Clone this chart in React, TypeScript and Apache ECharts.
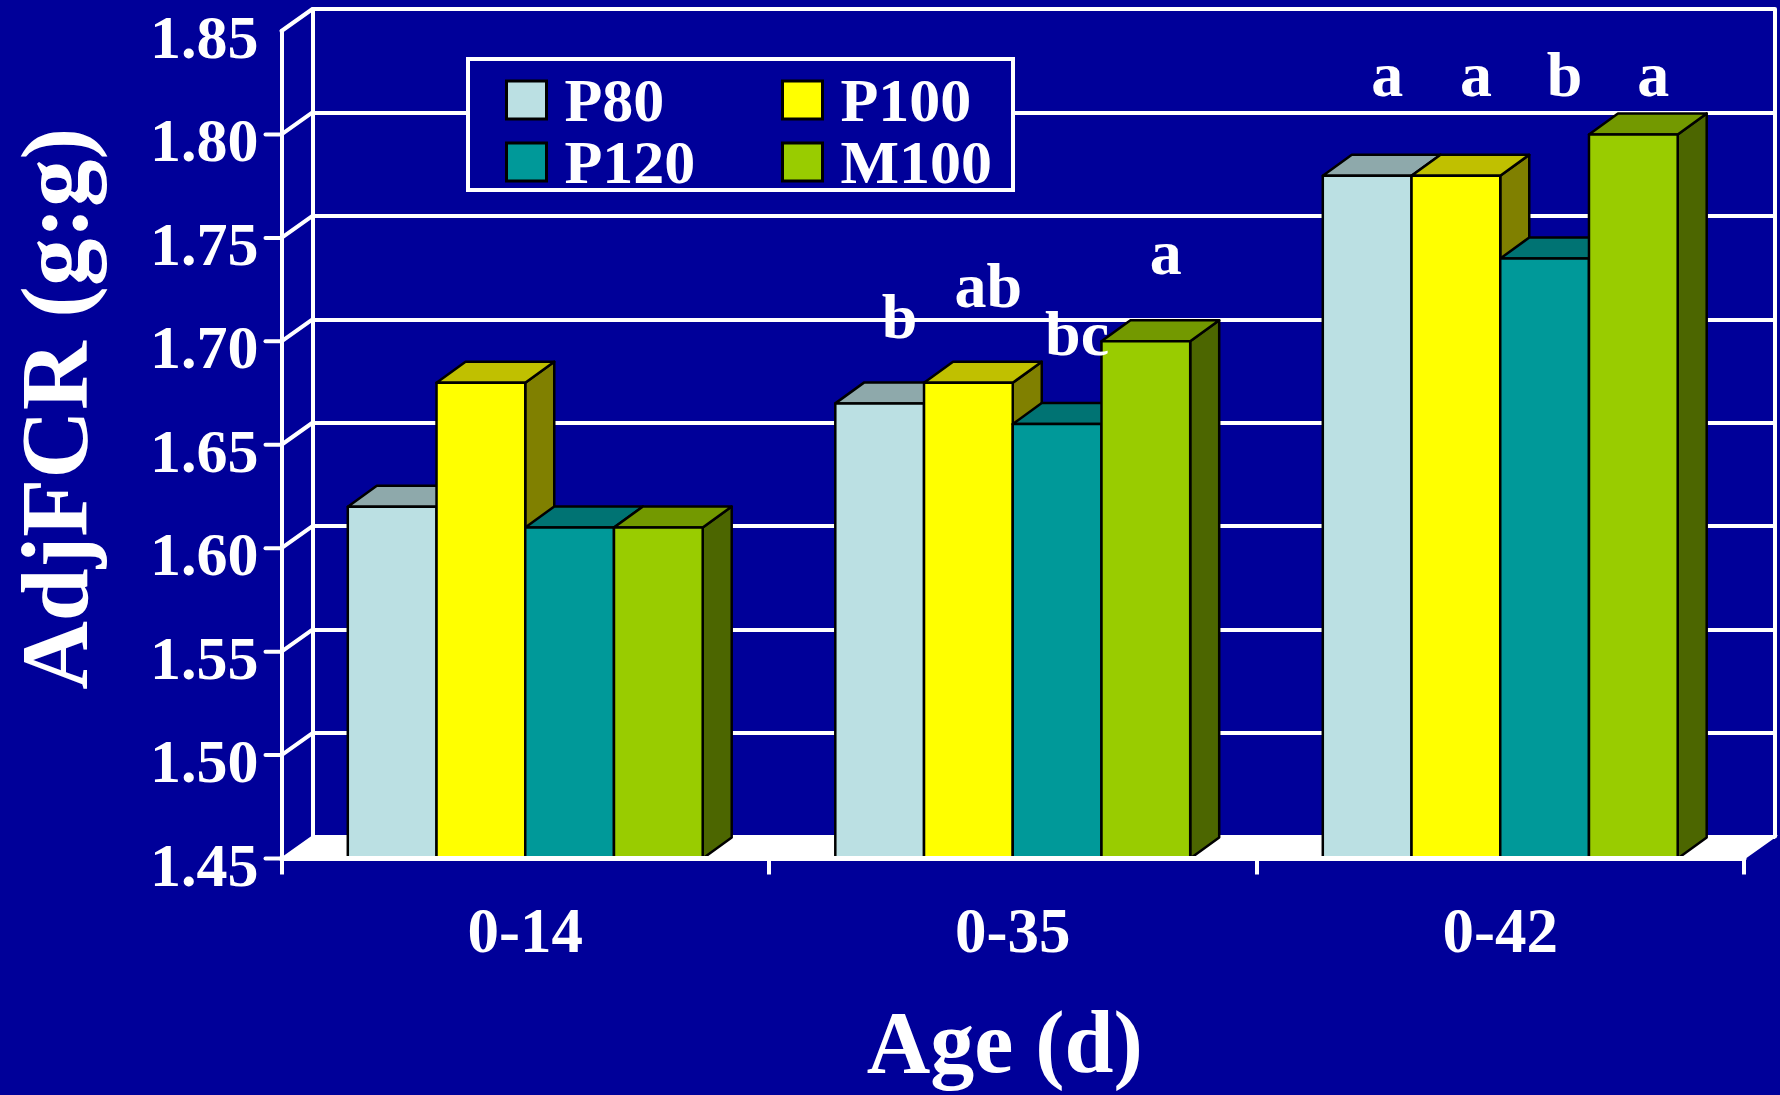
import React, { useEffect, useRef } from "react";
import * as echarts from "echarts";

// ---------- data ----------
const categories = ["0-14", "0-35", "0-42"];
const seriesNames = ["P80", "P100", "P120", "M100"];
const p80 = [1.62, 1.67, 1.78];
const p100 = [1.68, 1.68, 1.78];
const p120 = [1.61, 1.66, 1.74];
const m100 = [1.61, 1.7, 1.8];
const seriesValues = [p80, p100, p120, m100];
const yTicks = [1.45, 1.5, 1.55, 1.6, 1.65, 1.7, 1.75, 1.8, 1.85];
// significance letters and their vertical level (in AdjFCR units)
const lettersP80 = ["", "b", "a"];
const lettersP100 = ["", "ab", "a"];
const lettersP120 = ["", "bc", "b"];
const lettersM100 = ["", "a", "a"];
const letters = [lettersP80, lettersP100, lettersP120, lettersM100];
const letterLevelP80 = [0, 1.712, 1.829];
const letterLevelP100 = [0, 1.727, 1.829];
const letterLevelP120 = [0, 1.704, 1.829];
const letterLevelM100 = [0, 1.743, 1.829];
const letterLevels = [letterLevelP80, letterLevelP100, letterLevelP120, letterLevelM100];

// ---------- style ----------
const Y_MIN = 1.45;
const Y_MAX = 1.85;
const Y_INT = 0.05;
const BG = "#000099";
const FONT = '"Liberation Serif", "Times New Roman", serif';
const frontColors = ["#BBE0E3", "#FFFF00", "#009999", "#99CC00"];
const topColors = ["#8EA9AB", "#C0C000", "#007373", "#739900"];
const sideColors = ["#6E8C8E", "#808000", "#006666", "#4C6600"];
const WALL_DX = 31;
const WALL_DY = 22;
const BAR_DX = 29;
const BAR_DY = 21;
const GROUP_FRAC = 0.728;

const GRID_L = 281.5;
const GRID_R = 36;
const GRID_T = 31;
const GRID_B = 236.5;

function makeBarRender(si: number) {
  return (params: any, api: any) => {
    const cat = api.value(0);
    const v = api.value(1);
    const top = api.coord([cat, v]);
    const base = api.coord([cat, Y_MIN]);
    const band = api.size([1, 0])[0];
    const gw = band * GROUP_FRAC;
    const bw = gw / seriesNames.length;
    const x0 = top[0] - gw / 2 + si * bw;
    const x1 = x0 + bw;
    const yT = top[1];
    const yB = base[1];
    const st = { stroke: "#000", lineWidth: 2.5, lineJoin: "round" };
    const children: any[] = [
      {
        type: "polygon",
        shape: { points: [[x1, yT], [x1 + BAR_DX, yT - BAR_DY], [x1 + BAR_DX, yB - BAR_DY], [x1, yB]] },
        style: { ...st, fill: sideColors[si] },
      },
      {
        type: "polygon",
        shape: { points: [[x0, yT], [x1, yT], [x1 + BAR_DX, yT - BAR_DY], [x0 + BAR_DX, yT - BAR_DY]] },
        style: { ...st, fill: topColors[si] },
      },
      {
        type: "rect",
        shape: { x: x0, y: yT, width: bw, height: yB - yT },
        style: { ...st, fill: frontColors[si] },
      },
    ];
    const letter = letters[si][params.dataIndex];
    if (letter) {
      const ly = api.coord([cat, letterLevels[si][params.dataIndex]])[1];
      children.push({
        type: "text",
        x: (x0 + x1) / 2 + 20,
        y: ly,
        z2: 10,
        style: {
          text: letter,
          fill: "#ffffff",
          font: `bold 64px ${FONT}`,
          align: "center",
          verticalAlign: "middle",
        },
      });
    }
    return { type: "group", children };
  };
}

function renderFrame(params: any, api: any) {
  const v = api.value(1);
  const cs = params.coordSys;
  const y = api.coord([0, v])[1];
  const x = cs.x;
  const lineStyle = { stroke: "#ffffff", lineWidth: 4, lineCap: "round" };
  const children: any[] = [];
  if (params.dataIndex === 0) {
    // floor
    children.push({
      type: "polygon",
      shape: {
        points: [
          [x, y],
          [x + cs.width, y],
          [x + cs.width + WALL_DX, y - WALL_DY],
          [x + WALL_DX, y - WALL_DY],
        ],
      },
      style: { fill: "#ffffff", stroke: "#ffffff", lineWidth: 2 },
    });
  } else {
    children.push({
      type: "line",
      shape: { x1: x, y1: y, x2: x + WALL_DX, y2: y - WALL_DY },
      style: lineStyle,
    });
  }
  if (v < Y_MAX - 1e-9) {
    children.push({
      type: "line",
      shape: { x1: x - 16, y1: y, x2: x, y2: y },
      style: lineStyle,
    });
  }
  return { type: "group", children };
}

export default function App() {
  const ref = useRef<HTMLDivElement>(null);
  useEffect(() => {
    if (!ref.current) return;
    const chart = echarts.init(ref.current, undefined, { renderer: "svg" });
    const textBase = { color: "#ffffff", fontFamily: FONT, fontWeight: "bold" as const };
    const option: any = {
      animation: false,
      backgroundColor: BG,
      grid: [
        {
          left: GRID_L,
          right: GRID_R,
          top: GRID_T,
          bottom: GRID_B,
          containLabel: false,
          outerBoundsMode: "none",
        },
        {
          left: GRID_L + WALL_DX,
          right: GRID_R - WALL_DX,
          top: GRID_T - WALL_DY,
          bottom: GRID_B + WALL_DY,
          containLabel: false,
          outerBoundsMode: "none",
        },
      ],
      xAxis: [
        {
          type: "category",
          gridIndex: 0,
          data: categories,
          z: 5,
          axisLine: { lineStyle: { color: "#ffffff", width: 5 } },
          axisTick: { show: true, length: 16, lineStyle: { color: "#ffffff", width: 4 } },
          axisLabel: { ...textBase, fontSize: 63, margin: 41 },
          name: "Age (d)",
          nameLocation: "middle",
          nameGap: 144,
          nameTextStyle: { ...textBase, fontSize: 88, lineHeight: 80, padding: [0, 16, 0, 0] },
        },
        { type: "category", gridIndex: 1, data: categories, show: false },
      ],
      yAxis: [
        {
          type: "value",
          gridIndex: 0,
          min: Y_MIN,
          max: Y_MAX,
          interval: Y_INT,
          axisLine: { show: true, lineStyle: { color: "#ffffff", width: 4 } },
          axisTick: { show: false },
          splitLine: { show: false },
          axisLabel: {
            ...textBase,
            fontSize: 62,
            margin: 23,
            formatter: (val: number) => `{v|${val.toFixed(2)}}`,
            rich: {
              v: { ...textBase, fontSize: 62, padding: [12, 0, 0, 0] },
            },
          },
          name: "AdjFCR (g:g)",
          nameLocation: "middle",
          nameRotate: 90,
          nameGap: 187,
          nameTextStyle: { ...textBase, fontSize: 95, lineHeight: 80, padding: [0, 0, 0, 72] },
        },
        {
          type: "value",
          gridIndex: 1,
          min: Y_MIN,
          max: Y_MAX,
          interval: Y_INT,
          axisLine: { show: true, lineStyle: { color: "#ffffff", width: 4 } },
          axisTick: { show: false },
          axisLabel: { show: false },
          splitLine: { show: true, lineStyle: { color: "#ffffff", width: 4 } },
        },
        {
          type: "value",
          gridIndex: 1,
          position: "right",
          min: Y_MIN,
          max: Y_MAX,
          interval: Y_INT,
          axisLine: { show: true, lineStyle: { color: "#ffffff", width: 4 } },
          axisTick: { show: false },
          axisLabel: { show: false },
          splitLine: { show: false },
        },
      ],
      legend: [
        {
          data: ["P80", "P120"],
          orient: "vertical",
          left: 505,
          top: 69,
          padding: 0,
          itemGap: 0,
          itemWidth: 40,
          itemHeight: 38,
          icon: "rect",
          z: 10,
          itemStyle: { borderColor: "#000", borderWidth: 3 },
          textStyle: { ...textBase, fontSize: 62, padding: [0, 0, 0, 13] },
        },
        {
          data: ["P100", "M100"],
          orient: "vertical",
          left: 781,
          top: 69,
          padding: 0,
          itemGap: 0,
          itemWidth: 40,
          itemHeight: 38,
          icon: "rect",
          z: 10,
          itemStyle: { borderColor: "#000", borderWidth: 3 },
          textStyle: { ...textBase, fontSize: 62, padding: [0, 0, 0, 13] },
        },
      ],
      graphic: [
        {
          type: "rect",
          z: 8,
          shape: { x: 468, y: 59, width: 545, height: 131 },
          style: { fill: BG, stroke: "#ffffff", lineWidth: 4 },
        },
      ],
      series: [
        {
          type: "custom",
          name: "frame",
          xAxisIndex: 0,
          yAxisIndex: 0,
          z: 1,
          silent: true,
          renderItem: renderFrame,
          data: yTicks.map((t) => [0, t]),
          encode: { x: 0, y: 1 },
        },
        ...seriesNames.map((name, si) => ({
          type: "custom",
          name,
          xAxisIndex: 0,
          yAxisIndex: 0,
          z: 3,
          itemStyle: { color: frontColors[si], borderColor: "#000", borderWidth: 3 },
          renderItem: makeBarRender(si),
          data: seriesValues[si].map((v, i) => [i, v]),
          encode: { x: 0, y: 1 },
        })),
      ],
    };
    chart.setOption(option);
    return () => chart.dispose();
  }, []);
  return (
    <div
      ref={ref}
      style={{ position: "absolute", left: 0, top: 0, width: 1780, height: 1095 }}
    />
  );
}
